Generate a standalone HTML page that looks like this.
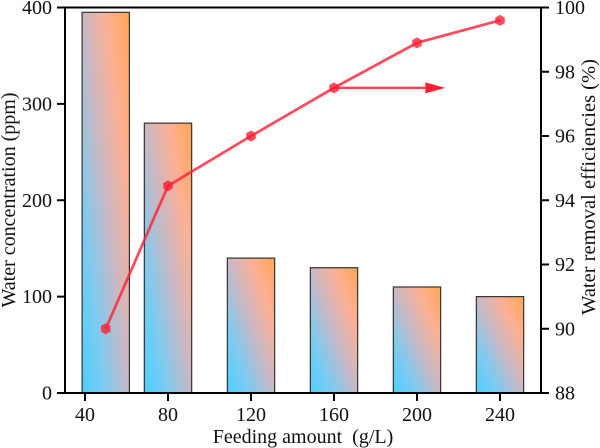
<!DOCTYPE html>
<html>
<head>
<meta charset="utf-8">
<style>
html,body{margin:0;padding:0;background:#fff;width:600px;height:448px;overflow:hidden}
svg{display:block}
text{font-family:"Liberation Serif",serif;fill:#111}
</style>
</head>
<body>
<svg id="chart" width="600" height="448" viewBox="0 0 600 448" xmlns="http://www.w3.org/2000/svg">
<defs>
<linearGradient id="barGrad" x1="0" y1="1" x2="1" y2="0">
<stop offset="0" stop-color="#4BD0FF"/>
<stop offset="0.25" stop-color="#7ECAEF"/>
<stop offset="0.5" stop-color="#C8B8C4"/>
<stop offset="0.75" stop-color="#FDB094"/>
<stop offset="1" stop-color="#FFA552"/>
</linearGradient>
</defs>
<g id="bars"></g>
<g id="axes"></g>
<g id="line"></g>
<text x="303" y="443" font-size="20" text-anchor="middle" xml:space="preserve">Feeding amount  (g/L)</text>
<text transform="translate(15,200) rotate(-90)" font-size="20" text-anchor="middle">Water concentration (ppm)</text>
<text transform="translate(595,187) rotate(-90)" font-size="20.5" text-anchor="middle">Water removal efficiencies (%)</text>
</svg>
<script>
const barPositions = [50, 80, 120, 160, 200, 240];
const concentration = [395, 280, 140, 130, 110, 100];
const efficiency = [90, 94.45, 96, 97.5, 98.9, 99.6];
const xTicks = [40, 80, 120, 160, 200, 240];
const leftTicks = [0, 100, 200, 300, 400];
const rightTicks = [88, 90, 92, 94, 96, 98, 100];
const arrowFrom = [160, 97.5];
const arrowTo = [204, 97.5];

const NS = 'http://www.w3.org/2000/svg';
const plot = {left: 65, right: 541, top: 7.5, bottom: 393};
const sx = v => 85 + (v - 40) * 83 / 40;
const syL = v => plot.bottom - v * (plot.bottom - plot.top) / 400;
const syR = v => plot.bottom - (v - 88) * (plot.bottom - plot.top) / 12;
const barWidth = sx(22.8) - sx(0);

function make(tag, attrs, parent) {
  const el = document.createElementNS(NS, tag);
  for (const k in attrs) el.setAttribute(k, attrs[k]);
  parent.appendChild(el);
  return el;
}
const barsG = document.getElementById('bars');
const axesG = document.getElementById('axes');
const lineG = document.getElementById('line');

barPositions.forEach((p, i) => {
  const r = make('rect', {
    x: sx(p) - barWidth / 2, y: syL(concentration[i]),
    width: barWidth, height: plot.bottom - syL(concentration[i]),
    fill: 'url(#barGrad)', stroke: '#333', 'stroke-width': 1.2
  }, barsG);
  
  
});

const axisStyle = {stroke: '#000', 'stroke-width': 2, fill: 'none'};
function axisLine(x1, y1, x2, y2, name) {
  const l = make('line', Object.assign({x1, y1, x2, y2}, axisStyle), axesG);
  
  
}
axisLine(plot.left, plot.top, plot.left, plot.bottom, 'left-y-axis-line');
axisLine(plot.right, plot.top, plot.right, plot.bottom, 'right-y-axis-line');
axisLine(plot.left, plot.top, plot.right, plot.top, 'top-axis-line');
axisLine(plot.left, plot.bottom, plot.right, plot.bottom, 'x-axis-line');

xTicks.forEach(v => {
  axisLine(sx(v), plot.bottom, sx(v), plot.bottom + 8, 'x-tick');
  const t = make('text', {x: sx(v), y: 421, 'font-size': 20, 'text-anchor': 'middle'}, axesG);
  t.textContent = v;
  
  
});
leftTicks.forEach(v => {
  axisLine(plot.left - 8, syL(v), plot.left, syL(v), 'left-y-tick');
  const t = make('text', {x: 52, y: syL(v) + 6.5, 'font-size': 20, 'text-anchor': 'end'}, axesG);
  t.textContent = v;
  
  
});
rightTicks.forEach(v => {
  axisLine(plot.right, syR(v), plot.right + 8, syR(v), 'right-y-tick');
  const t = make('text', {x: 555, y: syR(v) + 6.5, 'font-size': 20, 'text-anchor': 'start'}, axesG);
  t.textContent = v;
  
  
});

const red = '#FF1E32';
const pts = barPositions.map((p, i) => sx(p) + ',' + syR(efficiency[i])).join(' ');
const pl = make('polyline', {points: pts, fill: 'none', stroke: red, 'stroke-opacity': 0.8, 'stroke-width': 2.7, 'stroke-linejoin': 'round'}, lineG);



barPositions.forEach((p, i) => {
  const cx = sx(p), cy = syR(efficiency[i]), r = 5.5;
  const hex = [];
  for (let k = 0; k < 6; k++) {
    const a = Math.PI / 180 * (60 * k - 90);
    hex.push((cx + r * Math.cos(a)) + ',' + (cy + r * Math.sin(a)));
  }
  const m = make('polygon', {points: hex.join(' '), fill: red, 'fill-opacity': 0.8}, lineG);
  
  
});

const ax1 = sx(arrowFrom[0]), ay = syR(arrowFrom[1]), ax2 = sx(arrowTo[0]);
const shaft = make('line', {x1: ax1, y1: ay, x2: ax2, y2: ay, stroke: red, 'stroke-opacity': 0.85, 'stroke-width': 2.4}, lineG);


const head = make('polygon', {points: ax2 + ',' + (ay - 5.5) + ' ' + (ax2 + 20) + ',' + ay + ' ' + ax2 + ',' + (ay + 5.5), fill: red}, lineG);


</script>
</body>
</html>
